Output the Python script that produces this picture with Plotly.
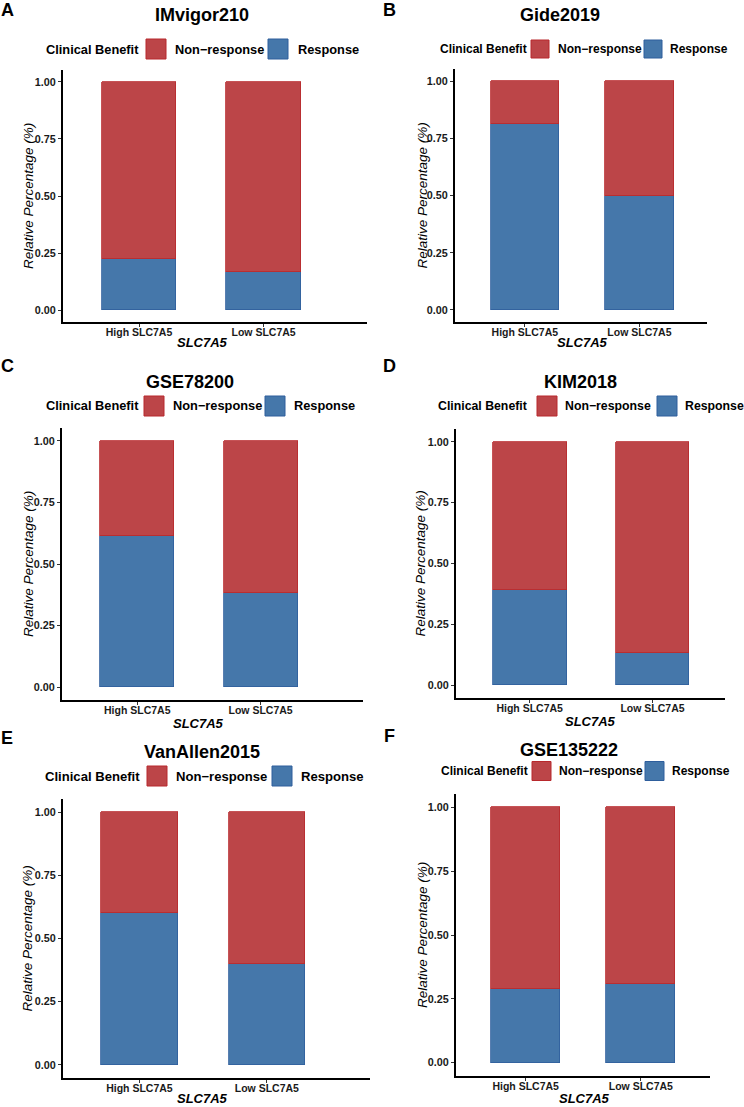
import plotly.graph_objects as go

W, H = 744, 1107

# ---------------- data ----------------
categories = ["High SLC7A5", "Low SLC7A5"]
datasets = ["IMvigor210", "Gide2019", "GSE78200", "KIM2018", "VanAllen2015", "GSE135222"]
panel_letters = ["A", "B", "C", "D", "E", "F"]
series_names = ["Non\u2212response", "Response"]
legend_title = "Clinical Benefit"
x_title = "SLC7A5"
y_title = "Relative Percentage (%)"
y_ticks = [0.0, 0.25, 0.5, 0.75, 1.0]
y_ticklabels = ["0.00", "0.25", "0.50", "0.75", "1.00"]

response_high = [0.223, 0.812, 0.615, 0.391, 0.600, 0.287]
response_low = [0.166, 0.500, 0.383, 0.134, 0.400, 0.308]
nonresponse_high = [0.777, 0.188, 0.385, 0.609, 0.400, 0.713]
nonresponse_low = [0.834, 0.500, 0.617, 0.866, 0.600, 0.692]

# ---------------- styling / layout (pixels) ----------------
RED = "#BC4548"
BLUE = "#4577AA"
RED_EDGE = "#B8282C"
BLUE_EDGE = "#2E5E9C"
FONT = "Liberation Sans, Arial, sans-serif"

# plot area: x0, x1, y_top, y_bottom ; x range
panels = [
    dict(x0=63, x1=367, yt=70, yb=322, xr=(0.39, 2.83), title=(202, 15), letter=(7, 10),
         leg=dict(y=49, lab=44, s1=146, t1=173, s2=268, t2=296, sw=20, fs=12.8),
         xt=(202, 343), yt_x=28),
    dict(x0=455, x1=707, yt=69, yb=322, xr=(0.39, 2.59), title=(560, 15), letter=(389, 10),
         leg=dict(y=49, lab=438, s1=531, t1=556, s2=644, t2=668, sw=18, fs=12),
         xt=(582, 343), yt_x=422),
    dict(x0=62, x1=363, yt=428, yb=700, xr=(0.39, 2.83), title=(190, 382), letter=(7, 366),
         leg=dict(y=406, lab=44, s1=144, t1=171, s2=265, t2=292, sw=20, fs=12.8),
         xt=(198, 723), yt_x=28),
    dict(x0=456, x1=725, yt=429, yb=698, xr=(0.40, 2.59), title=(580, 382), letter=(389, 366),
         leg=dict(y=406, lab=436, s1=537, t1=563, s2=657, t2=683, sw=20, fs=12.3),
         xt=(590, 721), yt_x=420),
    dict(x0=63, x1=370, yt=799, yb=1078, xr=(0.40, 2.81), title=(202, 752), letter=(7, 738),
         leg=dict(y=776, lab=43, s1=147, t1=174, s2=272, t2=299, sw=20, fs=13.1),
         xt=(203, 1098), yt_x=27),
    dict(x0=456, x1=710, yt=794, yb=1076, xr=(0.395, 2.60), title=(569, 750), letter=(389, 736),
         leg=dict(y=771, lab=439, s1=532, t1=557, s2=645, t2=670, sw=19, fs=12),
         xt=(584, 1098), yt_x=422),
]


def px(x):
    return x / W


def py(y):
    return 1 - y / H


fig = go.Figure()
annotations = []
shapes = []

for i, p in enumerate(panels):
    n = i + 1
    xa = "x" if n == 1 else f"x{n}"
    ya = "y" if n == 1 else f"y{n}"
    resp = [response_high[i], response_low[i]]
    nonresp = [nonresponse_high[i], nonresponse_low[i]]
    fig.add_trace(go.Bar(x=categories, y=resp, name=series_names[1], width=0.6,
                         marker=dict(color=BLUE, line=dict(color=BLUE_EDGE, width=0.8)),
                         xaxis=xa, yaxis=ya, showlegend=False))
    fig.add_trace(go.Bar(x=categories, y=nonresp, name=series_names[0], width=0.6,
                         marker=dict(color=RED, line=dict(color=RED_EDGE, width=0.8)),
                         xaxis=xa, yaxis=ya, showlegend=False))

    xkey = "xaxis" if n == 1 else f"xaxis{n}"
    ykey = "yaxis" if n == 1 else f"yaxis{n}"
    fig.update_layout({
        xkey: dict(domain=[px(p["x0"]), px(p["x1"])], anchor=ya,
                   type="category", categoryorder="array", categoryarray=categories,
                   range=[p["xr"][0] - 1, p["xr"][1] - 1],
                   showline=True, linecolor="black", linewidth=2.2,
                   ticks="outside", ticklen=3, tickwidth=1, tickcolor="#333",
                   ticklabelstandoff=-4,
                   showgrid=False, zeroline=False,
                   tickfont=dict(family=FONT, size=10.5, color="#1a1a1a", weight="bold")),
        ykey: dict(domain=[py(p["yb"]), py(p["yt"])], anchor=xa,
                   range=[-0.0525, 1.0525],
                   tickvals=y_ticks, ticktext=y_ticklabels,
                   showline=True, linecolor="black", linewidth=2.2,
                   ticks="outside", ticklen=3, tickwidth=1, tickcolor="#333",
                   showgrid=False, zeroline=False,
                   tickfont=dict(family=FONT, size=10.8, color="#1a1a1a", weight="bold")),
    })

    # titles and letters
    annotations.append(dict(text=f"<b>{datasets[i]}</b>", x=px(p["title"][0]), y=py(p["title"][1]),
                            xref="paper", yref="paper", xanchor="center", yanchor="middle",
                            showarrow=False, font=dict(family=FONT, size=18, color="black")))
    annotations.append(dict(text=f"<b>{panel_letters[i]}</b>", x=px(p["letter"][0]), y=py(p["letter"][1]),
                            xref="paper", yref="paper", xanchor="center", yanchor="middle",
                            showarrow=False, font=dict(family=FONT, size=18, color="black")))
    # axis titles
    annotations.append(dict(text=f"<b><i>{x_title}</i></b>", x=px(p["xt"][0]), y=py(p["xt"][1]),
                            xref="paper", yref="paper", xanchor="center", yanchor="middle",
                            showarrow=False, font=dict(family=FONT, size=13, color="black")))
    annotations.append(dict(text=f"<i>{y_title}</i>", x=px(p["yt_x"]), y=py((p["yt"] + p["yb"]) / 2),
                            xref="paper", yref="paper", xanchor="center", yanchor="middle",
                            textangle=-90, showarrow=False,
                            font=dict(family=FONT, size=13.5, color="black")))
    # legend
    lg = p["leg"]
    annotations.append(dict(text=f"<b>{legend_title}</b>", x=px(lg["lab"]), y=py(lg["y"]),
                            xref="paper", yref="paper", xanchor="left", yanchor="middle",
                            showarrow=False, font=dict(family=FONT, size=lg["fs"], color="black")))
    for sx, tx, name, col, edge in [(lg["s1"], lg["t1"], series_names[0], RED, RED_EDGE),
                                    (lg["s2"], lg["t2"], series_names[1], BLUE, BLUE_EDGE)]:
        shapes.append(dict(type="rect", xref="paper", yref="paper",
                           x0=px(sx), x1=px(sx + lg["sw"]),
                           y0=py(lg["y"] + lg["sw"] / 2), y1=py(lg["y"] - lg["sw"] / 2),
                           fillcolor=col, line=dict(color=edge, width=1)))
        annotations.append(dict(text=f"<b>{name}</b>", x=px(tx), y=py(lg["y"]),
                                xref="paper", yref="paper", xanchor="left", yanchor="middle",
                                showarrow=False, font=dict(family=FONT, size=lg["fs"], color="black")))

fig.update_layout(
    width=W, height=H, barmode="stack", bargap=0,
    margin=dict(l=0, r=0, t=0, b=0),
    paper_bgcolor="white", plot_bgcolor="white",
    annotations=annotations, shapes=shapes,
    font=dict(family=FONT),
)

fig.write_html("out.html", config={"displayModeBar": False},
               post_script="document.body.style.margin='0';document.body.style.overflow='hidden';")
